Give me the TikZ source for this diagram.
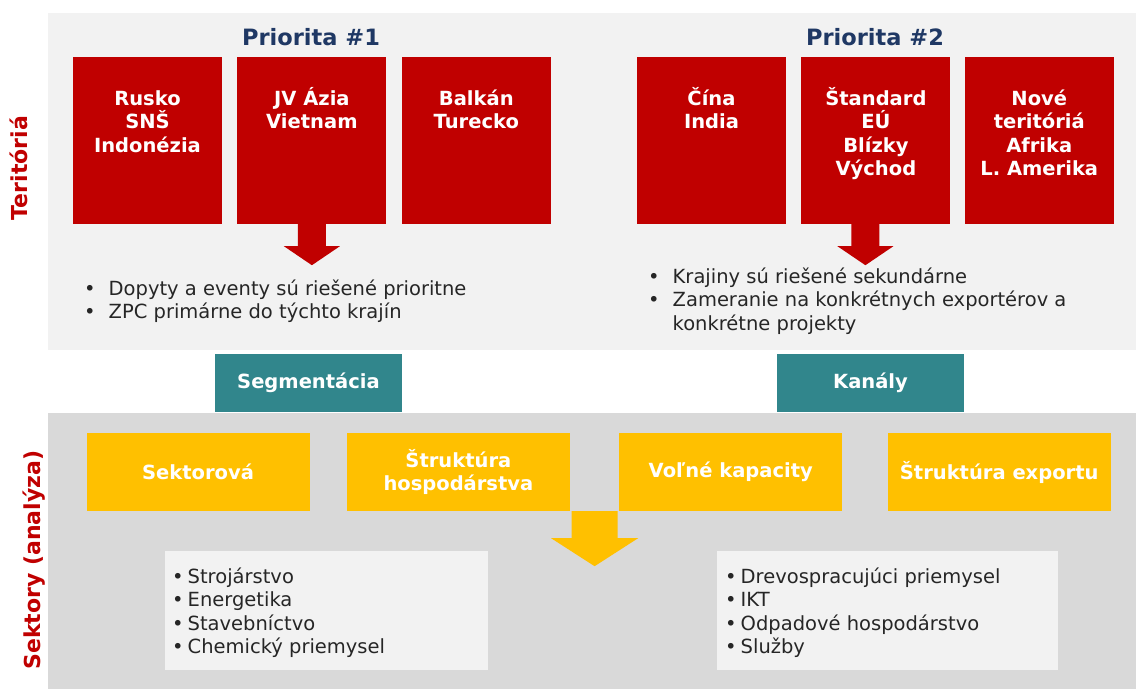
\documentclass[tikz,border=0pt]{standalone}
\usepackage{fontspec}
\setmainfont{DejaVu Sans}
\usetikzlibrary{positioning, calc}
\definecolor{terred}{HTML}{C00000}
\definecolor{prionavy}{HTML}{1F3864}
\definecolor{segteal}{HTML}{31868C}
\definecolor{sekyellow}{HTML}{FFC000}
\definecolor{toppanel}{HTML}{F2F2F2}
\definecolor{botpanel}{HTML}{D9D9D9}
\definecolor{bodytext}{HTML}{262626}
\tikzset{
  panel/.style   ={anchor=north west, inner sep=0pt, outer sep=0pt},
  redbox/.style  ={fill=terred, minimum width=149pt, minimum height=167pt, inner sep=0pt},
  boxtxt/.style  ={text=white, align=center, anchor=north, inner sep=0pt,
                   font=\bfseries\fontsize{19.5}{23.5}\selectfont},
  title/.style   ={text=prionavy, font=\bfseries\fontsize{22.5}{26}\selectfont},
  sidelbl/.style ={text=terred, rotate=90, font=\bfseries\fontsize{22}{26}\selectfont},
  tealbox/.style ={fill=segteal, text=white, minimum width=187pt, minimum height=58pt,
                   font=\bfseries\fontsize{19.5}{23.5}\selectfont},
  ybox/.style    ={fill=sekyellow, text=white, align=center, minimum width=223pt,
                   minimum height=78pt, inner sep=0pt,
                   font=\bfseries\fontsize{19.5}{23}\selectfont},
  listbox/.style ={fill=toppanel, anchor=north west, minimum height=119pt, inner sep=0pt},
  bullets/.style ={text=bodytext, anchor=north west, inner sep=0pt,
                   font=\fontsize{19.5}{23.5}\selectfont},
  blockarr/.style={fill=#1},
}

\begin{document}
\begin{tikzpicture}[x=1pt, y=-1pt]
  \useasboundingbox (0,0) rectangle (1136,689);

  % panels
  \node[panel, fill=toppanel, minimum width=1088pt, minimum height=337pt] (terpanel) at (48,13) {};
  \node[panel, fill=botpanel, minimum width=1088pt, minimum height=276pt] (sekpanel) at (48,413) {};

  \node[sidelbl] (ter) at (19,168) {Teritóriá};
  \node[sidelbl] (sek) at (34,560) {Sektory (analýza)};

  % territories
  \node[title] (prio1) at (311,37) {Priorita \#1};
  \node[title] (prio2) at (875,37) {Priorita \#2};

  \node[redbox]                  (b1) at (147.5,140.5) {};
  \node[redbox, right=15pt of b1] (b2) {};
  \node[redbox, right=15pt of b2] (b3) {};
  \node[redbox]                  (b4) at (711.5,140.5) {};
  \node[redbox, right=15pt of b4] (b5) {};
  \node[redbox, right=14pt of b5] (b6) {};

  \node[boxtxt] (t1) at ([yshift=-29pt]b1.north) {\rule{0pt}{19pt}Rusko\\SNŠ\\Indonézia};
  \node[boxtxt] (t2) at ([yshift=-29pt]b2.north) {\rule{0pt}{19pt}JV Ázia\\Vietnam};
  \node[boxtxt] (t3) at ([yshift=-29pt]b3.north) {\rule{0pt}{19pt}Balkán\\Turecko};
  \node[boxtxt] (t4) at ([yshift=-29pt]b4.north) {\rule{0pt}{19pt}Čína\\India};
  \node[boxtxt] (t5) at ([yshift=-29pt]b5.north) {\rule{0pt}{19pt}Štandard\\EÚ\\Blízky\\Východ};
  \node[boxtxt] (t6) at ([yshift=-29pt]b6.north) {\rule{0pt}{19pt}Nové\\teritóriá\\Afrika\\L. Amerika};

  \fill[blockarr=terred] ([xshift=-14pt]b2.south) -- ++(0,22) -- ++(-14,0) -- ++(28,19)
    -- ++(28,-19) -- ++(-14,0) -- ([xshift=14pt]b2.south) -- cycle;
  \fill[blockarr=terred] ([xshift=-24.5pt]b5.south) -- ++(0,22) -- ++(-14,0) -- ++(28,19)
    -- ++(28,-19) -- ++(-14,0) -- ([xshift=3.5pt]b5.south) -- cycle;

  \node[bullets] (note1) at (84,278.5) {%
    \begin{tabular}{@{}l@{\hspace{13pt}}l@{}}
      • & Dopyty a eventy sú riešené prioritne\\
      • & ZPC primárne do týchto krajín
    \end{tabular}};
  \node[bullets] (note2) at (648,266.5) {%
    \begin{tabular}{@{}l@{\hspace{13pt}}l@{}}
      • & Krajiny sú riešené sekundárne\\
      • & Zameranie na konkrétnych exportérov a\\
        & konkrétne projekty
    \end{tabular}};

  % sectors
  \node[tealbox] (seg) at (308.5,383) {Segmentácia};
  \node[tealbox] (kan) at (870.5,383) {Kanály};

  \node[ybox]                    (sektor) at (198,472) {Sektorová};
  \node[ybox, right=37pt of sektor] (hosp) {Štruktúra\\hospodárstva};
  \node[ybox, right=49pt of hosp]   (vol)  {Voľné kapacity};
  \node[ybox, right=45pt of vol]    (exp)  {Štruktúra exportu};

  \coordinate (ya) at ($(hosp.south east)!0.5!(vol.south west)$);
  \fill[blockarr=sekyellow] ([xshift=-23pt]ya) -- ++(0,27) -- ++(-20.5,0) -- ++(43.5,28)
    -- ++(43.5,-28) -- ++(-20.5,0) -- ([xshift=23pt]ya) -- cycle;

  \node[listbox, minimum width=323pt] (llist) at (165,551) {};
  \node[listbox, minimum width=341pt] (rlist) at (717,551) {};

  \node[bullets] (ltxt) at ([xshift=7pt,yshift=-15.5pt]llist.north west) {%
    \begin{tabular}{@{}l@{\hspace{4pt}}l@{}}
      • & Strojárstvo\\ • & Energetika\\ • & Stavebníctvo\\ • & Chemický priemysel
    \end{tabular}};
  \node[bullets] (rtxt) at ([xshift=8pt,yshift=-15.5pt]rlist.north west) {%
    \begin{tabular}{@{}l@{\hspace{4pt}}l@{}}
      • & Drevospracujúci priemysel\\ • & IKT\\ • & Odpadové hospodárstvo\\ • & Služby
    \end{tabular}};
\end{tikzpicture}
\end{document}
